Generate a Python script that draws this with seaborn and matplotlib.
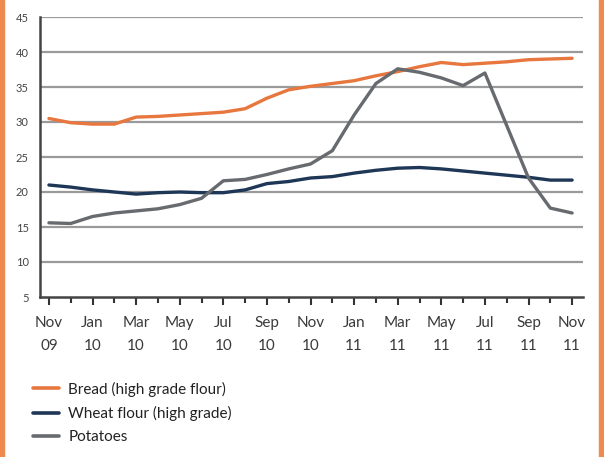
import matplotlib
matplotlib.use("Agg")
import matplotlib.pyplot as plt
from matplotlib.patches import Rectangle
import numpy as np
import pandas as pd
import seaborn as sns

# monthly, Nov 09 .. Nov 11
months = ["Nov\n09", "Dec\n09", "Jan\n10", "Feb\n10", "Mar\n10", "Apr\n10", "May\n10",
          "Jun\n10", "Jul\n10", "Aug\n10", "Sep\n10", "Oct\n10", "Nov\n10", "Dec\n10",
          "Jan\n11", "Feb\n11", "Mar\n11", "Apr\n11", "May\n11", "Jun\n11", "Jul\n11",
          "Aug\n11", "Sep\n11", "Oct\n11", "Nov\n11"]

bread = [30.5, 29.9, 29.7, 29.7, 30.7, 30.8, 31.0, 31.2, 31.4, 31.9, 33.4, 34.6, 35.1,
         35.5, 35.9, 36.6, 37.2, 37.9, 38.5, 38.2, 38.4, 38.6, 38.9, 39.0, 39.1]
wheat = [21.0, 20.7, 20.3, 20.0, 19.7, 19.9, 20.0, 19.9, 19.9, 20.3, 21.2, 21.5, 22.0,
         22.2, 22.7, 23.1, 23.4, 23.5, 23.3, 23.0, 22.7, 22.4, 22.1, 21.7, 21.7]
potatoes = [15.6, 15.5, 16.5, 17.0, 17.3, 17.6, 18.2, 19.1, 21.6, 21.8, 22.5, 23.3, 24.0,
            25.9, 31.0, 35.5, 37.6, 37.1, 36.3, 35.2, 37.0, 29.5, 22.0, 17.7, 17.0]

labels = ["Bread (high grade flour)", "Wheat flour (high grade)", "Potatoes"]
colors = ["#E8773F", "#1E3756", "#676A6E"]

def main():
    n = len(months)
    df = pd.DataFrame({
        "month": list(range(n)) * 3,
        "price": bread + wheat + potatoes,
        "series": [labels[0]] * n + [labels[1]] * n + [labels[2]] * n,
    })

    sns.set_style("white")
    plt.rcParams["font.family"] = ["Lato", "DejaVu Sans"]

    fig = plt.figure(figsize=(6.04, 4.57), dpi=100)
    ax = fig.add_axes([40 / 604, 160 / 457, 543 / 604, 280 / 457])

    for y in range(10, 50, 5):
        ax.axhline(y, color="#9a9a9a", lw=1.6, zorder=0)

    sns.lineplot(data=df, x="month", y="price", hue="series",
                 palette=dict(zip(labels, colors)), linewidth=2.4, ax=ax, legend=False)

    ax.set_xlim(-0.41, 24.5)
    ax.set_ylim(5, 45)
    ax.set_yticks(range(5, 50, 5))
    ax.set_xticks(range(0, n, 2))
    ax.set_xticklabels(months[::2], fontsize=11, color="#3a3a3a", linespacing=1.75)
    ax.set_xticks(range(1, n, 2), minor=True)
    ax.tick_params(axis="x", which="major", direction="out", length=6, width=1.5,
                   color="#333333", pad=8, bottom=True)
    ax.tick_params(axis="x", which="minor", direction="out", length=4, width=1.5,
                   color="#333333", bottom=True)
    ax.tick_params(axis="y", length=0, labelsize=8, labelcolor="#444444", pad=8)
    ax.set_xlabel("")
    ax.set_ylabel("")

    for s in ["top", "right"]:
        ax.spines[s].set_visible(False)
    for s in ["left", "bottom"]:
        ax.spines[s].set_color("#444444")
        ax.spines[s].set_linewidth(1.8)

    # legend below
    handles = [plt.Line2D([], [], color=c, lw=2.6) for c in colors]
    leg = fig.legend(handles, labels, loc="upper left",
                     bbox_to_anchor=(0.032, 1 - 368 / 457),
                     bbox_transform=fig.transFigure, frameon=False, fontsize=11,
                     handlelength=1.7, handletextpad=0.6, labelspacing=0.6)
    for t in leg.get_texts():
        t.set_color("#222222")

    # orange side borders
    fig.patches.append(Rectangle((0, 0), 4 / 604, 1, transform=fig.transFigure,
                                 color="#EE8A4F", zorder=5))
    fig.patches.append(Rectangle((599 / 604, 0), 5 / 604, 1, transform=fig.transFigure,
                                 color="#EE8A4F", zorder=5))

    fig.savefig("out.png", dpi=100)


if __name__ == "__main__":
    main()
